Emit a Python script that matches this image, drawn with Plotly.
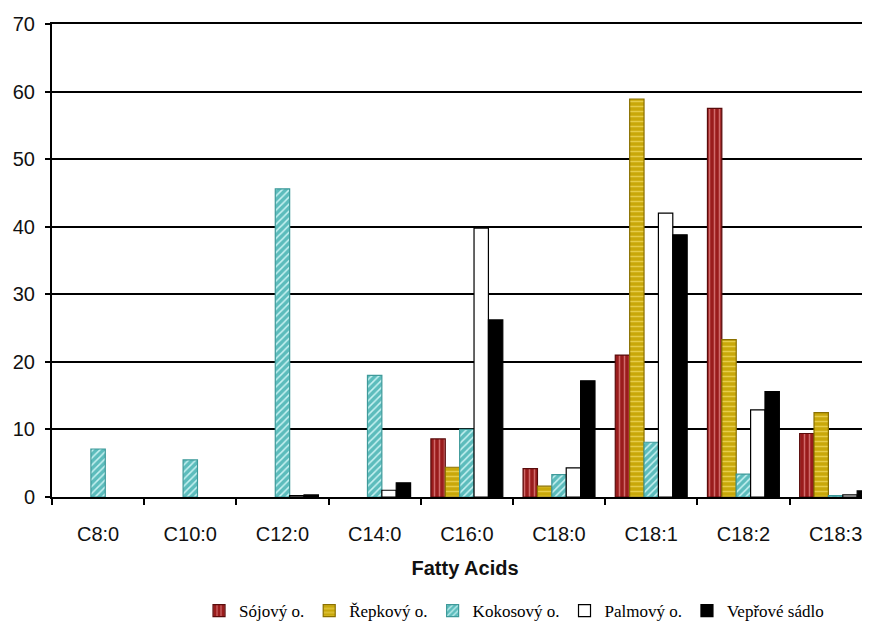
import plotly.graph_objects as go

categories = ["C8:0", "C10:0", "C12:0", "C14:0", "C16:0", "C18:0", "C18:1", "C18:2", "C18:3"]
series_names = ["Sójový o.", "Řepkový o.", "Kokosový o.", "Palmový o.", "Vepřové sádlo"]

sojovy = [None, None, None, None, 8.6, 4.2, 21.0, 57.5, 9.4]
repkovy = [None, None, None, None, 4.4, 1.6, 58.9, 23.3, 12.5]
kokosovy = [7.1, 5.5, 45.6, 18.0, 10.0, 3.3, 8.1, 3.4, 0.2]
palmovy = [None, None, 0.2, 1.0, 39.8, 4.3, 42.0, 12.9, 0.3]
veprove = [None, None, 0.3, 2.1, 26.2, 17.2, 38.8, 15.6, 0.9]

y_ticks = [0, 10, 20, 30, 40, 50, 60, 70]

styles = [
    dict(color="#9a1c1c", line="#5a0c0c", shape="|", fg="#d06a6a"),
    dict(color="#c9a80a", line="#8a7000", shape="-", fg="#e6cc4a"),
    dict(color="#5cbcbc", line="#3f9a9a", shape="/", fg="#c8f2f2"),
    dict(color="#ffffff", line="#000000", shape="", fg="#ffffff"),
    dict(color="#000000", line="#000000", shape="", fg="#000000"),
]

fig = go.Figure()
for name, vals, st in zip(series_names, [sojovy, repkovy, kokosovy, palmovy, veprove], styles):
    marker = dict(color=st["color"], line=dict(color=st["line"], width=1.2))
    if st["shape"]:
        marker["pattern"] = dict(shape=st["shape"], fgcolor=st["fg"], bgcolor=st["color"],
                                 size=5, solidity=0.3, fillmode="replace")
    fig.add_trace(go.Bar(name=name, x=categories, y=vals, marker=marker))

fig.update_layout(
    width=870, height=623,
    margin=dict(l=44, r=0, t=16, b=134),
    paper_bgcolor="white", plot_bgcolor="white",
    barmode="group", bargap=0.22, bargroupgap=0,
    font=dict(family="Liberation Sans, Arial, sans-serif", size=20, color="#111"),
    showlegend=True,
    legend=dict(orientation="h", x=0.178, xanchor="left", y=-0.241, yanchor="middle",
                font=dict(family="Liberation Serif, Times New Roman, serif", size=17, color="#000"),
                itemwidth=30, tracegroupgap=0, bgcolor="rgba(0,0,0,0)"),
)
fig.update_xaxes(
    type="category", range=[-0.5, 8.46], automargin=False,
    showline=True, linecolor="#000", linewidth=2, mirror=True,
    ticks="outside", tickson="boundaries", ticklen=6, tickwidth=1.5, tickcolor="#000",
    ticklabelstandoff=18,
    tickfont=dict(size=20, color="#111"),
    title=dict(text="<b>Fatty Acids</b>", font=dict(size=20, color="#111"), standoff=17),
    showgrid=False,
)
fig.update_yaxes(
    range=[0, 70], tickvals=y_ticks, automargin=False,
    showline=True, linecolor="#000", linewidth=2,
    showgrid=True, gridcolor="#000", gridwidth=1.6,
    ticks="outside", ticklen=5, tickwidth=1.5, tickcolor="#000",
    ticklabelstandoff=6,
    tickfont=dict(size=20, color="#111"),
    zeroline=False,
)
fig.write_html("out.html")
